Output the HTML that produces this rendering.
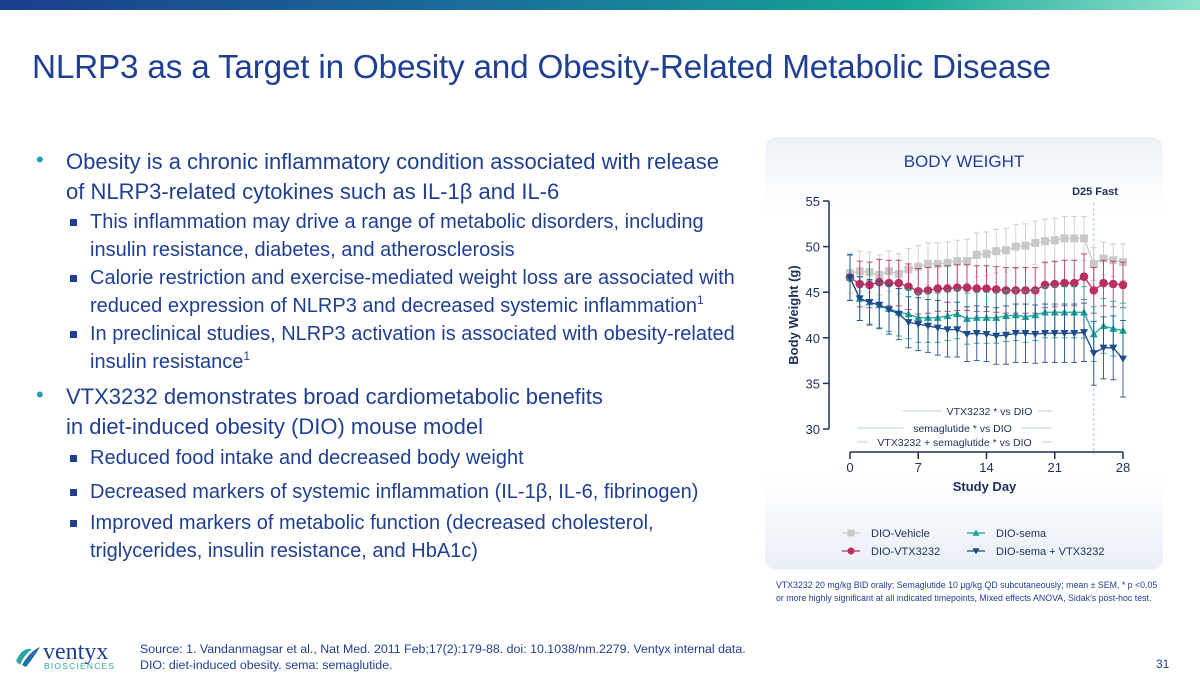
<!DOCTYPE html>
<html><head><meta charset="utf-8"><style>
body{margin:0;width:1200px;height:673px;overflow:hidden;background:#fff;font-family:"Liberation Sans",Arial,sans-serif;position:relative}
.topbar{position:absolute;left:0;top:0;width:1200px;height:10px;background:linear-gradient(90deg,#1a3e8c 0%,#1a6e9a 40%,#16a596 75%,#8ee2cc 100%)}
h1{position:absolute;left:32px;top:49px;margin:0;font-weight:normal;font-size:33.3px;color:#1f3f93;letter-spacing:-0.2px}
.b{position:absolute;color:#1f3f93;font-size:22px;line-height:30px}
.s{position:absolute;color:#1f3f93;font-size:20px;line-height:28px}
sup{font-size:12px;line-height:0;vertical-align:8px}
.dot{position:absolute;font-size:22px;color:#1f9fb0}
.sq{position:absolute;width:7px;height:7px;background:#1f3f93}
.panel{position:absolute;left:765px;top:137px;width:398px;height:433px;border-radius:12px;background:linear-gradient(180deg,#edf2f8 0%,#ffffff 18%,#ffffff 78%,#e9eff7 100%)}
.foot{position:absolute;left:140px;top:641px;font-size:12.4px;color:#1f3f93;line-height:16px}
.note{position:absolute;left:776px;top:579px;font-size:8.8px;color:#1f3f93;line-height:13px}
</style></head><body>
<div class="topbar"></div>
<h1>NLRP3 as a Target in Obesity and Obesity-Related Metabolic Disease</h1>

<div class="dot" style="left:36px;top:147px">•</div>
<div class="b" style="left:66px;top:147px;width:680px">Obesity is a chronic inflammatory condition associated with release<br>of NLRP3-related cytokines such as IL-1β and IL-6</div>
<div class="sq" style="left:70px;top:219px"></div>
<div class="s" style="left:90px;top:208px;width:660px">This inflammation may drive a range of metabolic disorders, including<br>insulin resistance, diabetes, and atherosclerosis</div>
<div class="sq" style="left:70px;top:275px"></div>
<div class="s" style="left:90px;top:264px;width:680px">Calorie restriction and exercise-mediated weight loss are associated with<br>reduced expression of NLRP3 and decreased systemic inflammation<sup>1</sup></div>
<div class="sq" style="left:70px;top:331px"></div>
<div class="s" style="left:90px;top:320px;width:680px">In preclinical studies, NLRP3 activation is associated with obesity-related<br>insulin resistance<sup>1</sup></div>
<div class="dot" style="left:36px;top:382px">•</div>
<div class="b" style="left:66px;top:382px;width:640px">VTX3232 demonstrates broad cardiometabolic benefits<br>in diet-induced obesity (DIO) mouse model</div>
<div class="sq" style="left:70px;top:455px"></div>
<div class="s" style="left:90px;top:444px">Reduced food intake and decreased body weight</div>
<div class="sq" style="left:70px;top:489px"></div>
<div class="s" style="left:90px;top:478px">Decreased markers of systemic inflammation (IL-1β, IL-6, fibrinogen)</div>
<div class="sq" style="left:70px;top:520px"></div>
<div class="s" style="left:90px;top:509px;width:680px">Improved markers of metabolic function (decreased cholesterol,<br>triglycerides, insulin resistance, and HbA1c)</div>

<div class="panel"></div>
<svg id="chart" style="position:absolute;left:0;top:0" width="1200" height="673"></svg>

<div class="note">VTX3232 20 mg/kg BID orally; Semaglutide 10 μg/kg QD subcutaneously; mean ± SEM, * p &lt;0.05<br>or more highly significant at all indicated timepoints, Mixed effects ANOVA, Sidak's post-hoc test.</div>

<div style="position:absolute;left:12px;top:637px;width:120px;height:36px">
<svg width="120" height="36"><path d="M4 24 Q10 10 20 12 Q12 18 8 28 Z" fill="#2aa7a0"/><path d="M10 28 Q18 14 28 10 Q22 20 14 30 Z" fill="#1f6fae"/>
<text x="31" y="22" font-family="Liberation Serif,serif" font-size="24" fill="#1f3f93">ventyx</text>
<text x="32" y="32" font-family="Liberation Sans,sans-serif" font-size="8.5" letter-spacing="1.2" fill="#2aa7a0">BIOSCIENCES</text></svg></div>
<div class="foot">Source: 1. Vandanmagsar et al., Nat Med. 2011 Feb;17(2):179-88. doi: 10.1038/nm.2279. Ventyx internal data.<br>DIO: diet-induced obesity. sema: semaglutide.</div>
<div style="position:absolute;left:1156px;top:657px;font-size:12px;color:#1f3f93">31</div>

<script>
const days=[...Array(29).keys()];
const vehicle=[47.1,47.3,47.2,46.9,47.3,47.0,47.5,47.8,48.1,48.1,48.2,48.4,48.4,49.1,49.2,49.5,49.6,50.0,50.1,50.4,50.6,50.7,50.9,50.9,50.9,48.1,48.7,48.5,48.3];
const vehicleErr=[2.2,2.2,2.2,2.2,2.2,2.2,2.3,2.3,2.3,2.3,2.3,2.3,2.4,2.4,2.4,2.4,2.4,2.4,2.4,2.4,2.4,2.4,2.4,2.4,2.4,1.8,1.8,1.8,2.0];
const vtx=[46.6,45.9,45.8,46.1,46.0,46.0,45.6,45.1,45.2,45.4,45.4,45.5,45.5,45.4,45.4,45.3,45.2,45.2,45.2,45.2,45.8,45.9,46.0,46.0,46.7,45.2,46.0,45.9,45.8];
const vtxErr=[2.5,2.5,2.5,2.5,2.5,2.5,2.5,2.5,2.5,2.5,2.5,2.5,2.5,2.5,2.5,2.5,2.5,2.5,2.5,2.5,2.5,2.5,2.5,2.5,2.5,2.5,2.5,2.5,2.5];
const sema=[46.6,44.3,43.9,43.6,43.2,42.8,42.6,42.2,42.2,42.2,42.4,42.6,42.1,42.2,42.2,42.2,42.4,42.5,42.3,42.5,42.8,42.8,42.8,42.8,42.8,40.4,41.3,41.0,40.8];
const semaErr=[2.5,2.4,2.4,2.5,2.5,2.6,2.7,2.7,2.7,2.7,2.7,2.7,2.8,2.8,2.8,2.8,2.8,2.8,2.8,2.8,2.8,2.8,2.8,2.8,2.8,3.0,3.0,3.0,3.0];
const combo=[46.6,44.3,43.9,43.6,43.1,42.6,41.7,41.5,41.3,41.1,40.9,40.9,40.4,40.5,40.4,40.2,40.3,40.5,40.5,40.4,40.5,40.5,40.5,40.5,40.6,38.3,38.9,38.9,37.7];
const comboErr=[2.5,2.4,2.5,2.6,2.7,2.8,2.8,2.9,2.9,3.0,3.0,3.0,3.0,3.0,3.0,3.1,3.2,3.2,3.2,3.2,3.2,3.2,3.2,3.2,3.2,3.5,3.4,3.5,4.2];
const yTicks=[30,35,40,45,50,55];
const xTicks=[0,7,14,21,28];
const ns="http://www.w3.org/2000/svg";
const svg=document.getElementById('chart');
const X=d=>850+d*(1123-850)/28;
const Y=v=>429-(v-30)*(429-201)/25;
function el(t,a,p){const e=document.createElementNS(ns,t);for(const k in a)e.setAttribute(k,a[k]);(p||svg).appendChild(e);return e;}
function txt(x,y,s,a){const e=el('text',Object.assign({x:x,y:y,'font-family':'Liberation Sans,Arial,sans-serif',fill:'#1c2f5c'},a));e.textContent=s;return e;}
let t=txt(964,167,'BODY WEIGHT',{'font-size':17,'text-anchor':'middle',fill:'#1f3f93'});

t=txt(1095,195,'D25 Fast',{'font-size':11,'font-weight':'bold','text-anchor':'middle'});

el('line',{x1:X(25),x2:X(25),y1:203,y2:455,stroke:'#a9c4e0','stroke-dasharray':'3,2','stroke-width':1});
el('line',{x1:829,x2:829,y1:Y(55),y2:Y(30),stroke:'#1c2f5c','stroke-width':1.5});
yTicks.forEach(v=>{el('line',{x1:823,x2:829,y1:Y(v),y2:Y(v),stroke:'#1c2f5c','stroke-width':1.5});
 const l=txt(820,Y(v)+5,String(v),{'font-size':13,'text-anchor':'end'});});
t=txt(0,0,'Body Weight (g)',{'font-size':13,'font-weight':'bold','text-anchor':'middle',transform:'translate(798,315) rotate(-90)'});

el('line',{x1:X(0),x2:X(28),y1:452,y2:452,stroke:'#1c2f5c','stroke-width':1.5});
xTicks.forEach(d=>{el('line',{x1:X(d),x2:X(d),y1:452,y2:459,stroke:'#1c2f5c','stroke-width':1.5});
 const l=txt(X(d),472,String(d),{'font-size':13,'text-anchor':'middle'});});
t=txt(X(14)-2,491,'Study Day',{'font-size':13,'font-weight':'bold','text-anchor':'middle'});

[[903,935,'VTX3232 * vs DIO',1052,411],[857,935,'semaglutide * vs DIO',1052,428],[857,866,'VTX3232 + semaglutide * vs DIO',1052,442]].forEach(r=>{
 const tt=txt(0,r[4]+4,r[2],{'font-size':10.5,'text-anchor':'middle'});
 const cx=(r[0]+r[3])/2+ (r[2].length<18?12:(r[2].length<22?8:0));tt.setAttribute('x',cx);
 
 const w=r[2].length*5.6;
 el('line',{x1:r[0],x2:cx-w/2-3,y1:r[4],y2:r[4],stroke:'#b7cde0'});
 el('line',{x1:cx+w/2+3,x2:r[3],y1:r[4],y2:r[4],stroke:'#b7cde0'});
});
function marker(g,type,x,y,c,s){
 if(type==='sq')return el('rect',{x:x-s,y:y-s,width:2*s,height:2*s,fill:c},g);
 if(type==='ci')return el('circle',{cx:x,cy:y,r:s,fill:c},g);
 if(type==='up')return el('polygon',{points:`${x},${y-s} ${x-s},${y+s*0.8} ${x+s},${y+s*0.8}`,fill:c},g);
 return el('polygon',{points:`${x},${y+s} ${x-s},${y-s*0.8} ${x+s},${y-s*0.8}`,fill:c},g);
}
const series=[[vehicle,vehicleErr,'#c9c9c9','sq','series-dio-vehicle'],[vtx,vtxErr,'#b8305f','ci','series-dio-vtx3232'],[sema,semaErr,'#1fa596','up','series-dio-sema'],[combo,comboErr,'#1d4a8c','dn','series-dio-sema-vtx3232']];
series.forEach(s=>{
 const g=el('g',{});
 const c=s[2];
 days.forEach(d=>{const y1=Y(s[0][d]+s[1][d]),y2=Y(s[0][d]-s[1][d]);
  el('line',{x1:X(d),x2:X(d),y1:y1,y2:y2,stroke:c,'stroke-width':1,opacity:0.85},g);
  el('line',{x1:X(d)-3,x2:X(d)+3,y1:y1,y2:y1,stroke:c,'stroke-width':1,opacity:0.85},g);
  el('line',{x1:X(d)-3,x2:X(d)+3,y1:y2,y2:y2,stroke:c,'stroke-width':1,opacity:0.85},g);});
 el('polyline',{points:days.map(d=>X(d)+','+Y(s[0][d])).join(' '),fill:'none',stroke:c,'stroke-width':1.3},g);
 days.forEach(d=>{const m=marker(g,s[3],X(d),Y(s[0][d]),c,s[3]==='ci'?4.3:4);});
});
[['DIO-Vehicle','#c9c9c9','sq',842,533],['DIO-sema','#1fa596','up',967,533],['DIO-VTX3232','#b8305f','ci',842,551],['DIO-sema + VTX3232','#1d4a8c','dn',967,551]].forEach(l=>{
 const g=el('g',{});
 el('line',{x1:l[3],x2:l[3]+18,y1:l[4],y2:l[4],stroke:l[1],'stroke-width':1.3},g);
 marker(g,l[2],l[3]+9,l[4],l[1],3.5);
 const tt=txt(l[3]+29,l[4]+4,l[0],{'font-size':11},);g.appendChild(tt);
});
</script>
</body></html>
